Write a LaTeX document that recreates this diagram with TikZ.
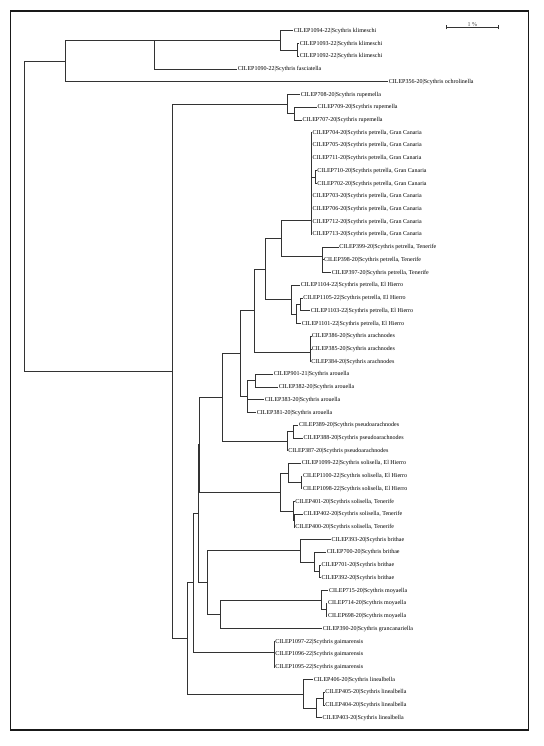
\documentclass[tikz,border=0pt]{standalone}
\usepackage{fontspec}
\setmainfont{Liberation Serif}
\usetikzlibrary{calc}
\begin{document}
\begin{tikzpicture}[x=1pt,y=-1pt,
  branch/.style={draw=black!80,line width=1pt},
  leaf/.style={anchor=west,inner sep=0.7pt,font=\fontsize{6pt}{7pt}\selectfont,text height=4.2pt,text depth=1.3pt},
  framebox/.style={draw=black!90,line width=1.2pt}]
\useasboundingbox (0,0) rectangle (543,746);
\draw[framebox] (10.7,11) rectangle (528.3,730);
% internal nodes
\coordinate (root) at (24.2,216.3);
\coordinate (O) at (65.6,61.21);
\coordinate (K) at (154.6,40.54);
\coordinate (K1) at (280,40.54);
\coordinate (K2) at (297.5,50.08);
\coordinate (A) at (172.3,371.3);
\coordinate (R1) at (287.3,104.14);
\coordinate (R2) at (294,113.68);
\coordinate (P0) at (187,638.46);
\coordinate (P1) at (193.3,582.88);
\coordinate (P2) at (198.2,513.76);
\coordinate (Q) at (199.2,444.78);
\coordinate (S) at (222.3,397.45);
\coordinate (H3) at (240.5,353.67);
\coordinate (H2) at (254,310.64);
\coordinate (H1) at (265,269.1);
\coordinate (GT) at (281.5,238.49);
\coordinate (G) at (311,220.2);
\coordinate (G2) at (315,177.28);
\coordinate (TN) at (322,256.78);
\coordinate (TN2) at (322.7,266.32);
\coordinate (EH) at (291,299.71);
\coordinate (EH2) at (296.7,314.02);
\coordinate (EH3) at (300,304.48);
\coordinate (AR) at (310,352.18);
\coordinate (AR2) at (310.5,342.64);
\coordinate (V) at (247.3,396.7);
\coordinate (W) at (255,380.8);
\coordinate (PS) at (287,441.22);
\coordinate (PS2) at (293.3,431.68);
\coordinate (SO) at (280.7,492.1);
\coordinate (SOE) at (288.3,473.02);
\coordinate (SOE2) at (301,482.56);
\coordinate (SOT) at (293.3,511.18);
\coordinate (SOT2) at (294,520.72);
\coordinate (BM) at (207,582.73);
\coordinate (BR) at (300,550.93);
\coordinate (BR2) at (314,562.06);
\coordinate (BR3) at (319.3,571.6);
\coordinate (MG) at (220.7,614.53);
\coordinate (MO) at (321.7,600.22);
\coordinate (MO2) at (326,609.76);
\coordinate (GA) at (274,652);
\coordinate (LI) at (303,694.03);
\coordinate (LI2) at (316.6,708.34);
\coordinate (LI3) at (323.5,698.8);
% leaves
\foreach \i/\xx/\lab in {
 1/293/{CILEP1094-22|Scythris klimeschi},
 2/299/{CILEP1093-22|Scythris klimeschi},
 3/299/{CILEP1092-22|Scythris klimeschi},
 4/237/{CILEP1090-22|Scythris fasciatella},
 5/388/{CILEP356-20|Scythris ochrolinella},
 6/300/{CILEP708-20|Scythris rupemella},
 7/316.7/{CILEP709-20|Scythris rupemella},
 8/301.7/{CILEP707-20|Scythris rupemella},
 9/311.7/{CILEP704-20|Scythris petrella, Gran Canaria},
 10/311.7/{CILEP705-20|Scythris petrella, Gran Canaria},
 11/311.7/{CILEP711-20|Scythris petrella, Gran Canaria},
 12/316.5/{CILEP710-20|Scythris petrella, Gran Canaria},
 13/316.5/{CILEP702-20|Scythris petrella, Gran Canaria},
 14/311.7/{CILEP703-20|Scythris petrella, Gran Canaria},
 15/311.7/{CILEP706-20|Scythris petrella, Gran Canaria},
 16/311.7/{CILEP712-20|Scythris petrella, Gran Canaria},
 17/311.7/{CILEP713-20|Scythris petrella, Gran Canaria},
 18/338.5/{CILEP399-20|Scythris petrella, Tenerife},
 19/323.3/{CILEP398-20|Scythris petrella, Tenerife},
 20/331/{CILEP397-20|Scythris petrella, Tenerife},
 21/300/{CILEP1104-22|Scythris petrella, El Hierro},
 22/302.5/{CILEP1105-22|Scythris petrella, El Hierro},
 23/310/{CILEP1103-22|Scythris petrella, El Hierro},
 24/301/{CILEP1101-22|Scythris petrella, El Hierro},
 25/311/{CILEP386-20|Scythris arachnodes},
 26/311/{CILEP385-20|Scythris arachnodes},
 27/310.5/{CILEP384-20|Scythris arachnodes},
 28/273/{CILEP901-21|Scythris arouella},
 29/278/{CILEP382-20|Scythris arouella},
 30/264/{CILEP383-20|Scythris arouella},
 31/256/{CILEP381-20|Scythris arouella},
 32/298.3/{CILEP389-20|Scythris pseudoarachnodes},
 33/302.7/{CILEP388-20|Scythris pseudoarachnodes},
 34/287.5/{CILEP387-20|Scythris pseudoarachnodes},
 35/301/{CILEP1099-22|Scythris solisella, El Hierro},
 36/302.3/{CILEP1100-22|Scythris solisella, El Hierro},
 37/302.3/{CILEP1098-22|Scythris solisella, El Hierro},
 38/294.5/{CILEP401-20|Scythris solisella, Tenerife},
 39/302.7/{CILEP402-20|Scythris solisella, Tenerife},
 40/294.5/{CILEP400-20|Scythris solisella, Tenerife},
 41/330.7/{CILEP393-20|Scythris brithae},
 42/326/{CILEP700-20|Scythris brithae},
 43/320.7/{CILEP701-20|Scythris brithae},
 44/320.7/{CILEP392-20|Scythris brithae},
 45/328.3/{CILEP715-20|Scythris moyaella},
 46/327.3/{CILEP714-20|Scythris moyaella},
 47/327.3/{CILEP698-20|Scythris moyaella},
 48/322/{CILEP390-20|Scythris grancanariella},
 49/274.5/{CILEP1097-22|Scythris gaimarensis},
 50/274.5/{CILEP1096-22|Scythris gaimarensis},
 51/274.5/{CILEP1095-22|Scythris gaimarensis},
 52/313/{CILEP406-20|Scythris linealbella},
 53/324.5/{CILEP405-20|Scythris linealbella},
 54/324.5/{CILEP404-20|Scythris linealbella},
 55/321.8/{CILEP403-20|Scythris linealbella}}{
  \pgfmathsetmacro\yy{31+12.72*(\i-1)}
  \coordinate (t\i) at (\xx,\yy);
  \node[leaf] (l\i) at (t\i) {\lab};
}
% branches
\foreach \p/\c in {root/O, root/A, O/K, O/t5, K/K1, K/t4, K1/t1, K1/K2, K2/t2, K2/t3,
  A/R1, A/P0, R1/t6, R1/R2, R2/t7, R2/t8,
  P0/P1, P0/LI, P1/P2, P1/GA, P2/Q, P2/BM, Q/S, Q/SO, S/H3, S/PS,
  H3/H2, H3/V, H2/H1, H2/AR, H1/GT, H1/EH, GT/G, GT/TN,
  G/t9, G/t10, G/t11, G/G2, G/t14, G/t15, G/t16, G/t17, G2/t12, G2/t13,
  TN/t18, TN/TN2, TN2/t19, TN2/t20,
  EH/t21, EH/EH2, EH2/EH3, EH2/t24, EH3/t22, EH3/t23,
  AR/AR2, AR/t27, AR2/t25, AR2/t26,
  V/W, V/t30, V/t31, W/t28, W/t29,
  PS/PS2, PS/t34, PS2/t32, PS2/t33,
  SO/SOE, SO/SOT, SOE/t35, SOE/SOE2, SOE2/t36, SOE2/t37, SOT/t38, SOT/SOT2, SOT2/t39, SOT2/t40,
  BM/BR, BM/MG, BR/t41, BR/BR2, BR2/t42, BR2/BR3, BR3/t43, BR3/t44,
  MG/MO, MG/t48, MO/t45, MO/MO2, MO2/t46, MO2/t47,
  GA/t49, GA/t50, GA/t51,
  LI/t52, LI/LI2, LI2/LI3, LI2/t55, LI3/t53, LI3/t54}{
  \draw[branch] (\p) |- (\c);
}
% scale bar
\coordinate (sbL) at (446.5,27.3);
\coordinate (sbR) at (498,27.3);
\draw[branch] (sbL) -- (sbR);
\draw[branch] ([yshift=-2.2pt]sbL) -- ([yshift=2.2pt]sbL);
\draw[branch] ([yshift=-2.2pt]sbR) -- ([yshift=2.2pt]sbR);
\node[font=\fontsize{6pt}{7pt}\selectfont,text=black!70,inner sep=0.6pt,anchor=south] (sblab) at ($(sbL)!0.5!(sbR)$) {1 \%};
\end{tikzpicture}
\end{document}
